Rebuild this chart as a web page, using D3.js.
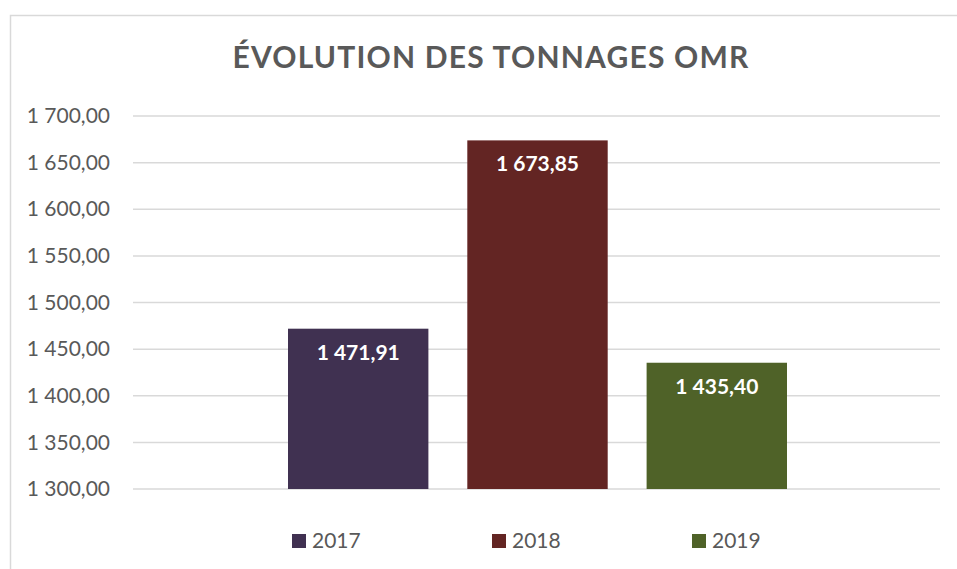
<!DOCTYPE html>
<html><head><meta charset="utf-8">
<script src="https://cdn.jsdelivr.net/npm/d3@7"></script>
<style>body{margin:0;background:#fff}svg{display:block}</style>
</head><body>
<script>
const title = "ÉVOLUTION DES TONNAGES OMR";
const series = ["2017", "2018", "2019"];
const values = [1471.91, 1673.85, 1435.40];
const colors = ["#403151", "#632523", "#4F6228"];
const yTicks = [1300, 1350, 1400, 1450, 1500, 1550, 1600, 1650, 1700];

const W = 957, H = 569;
const font = "Lato, 'Open Sans', sans-serif";
const loc = d3.formatLocale({decimal: ",", thousands: " ", grouping: [3], currency: ["", ""]});
const fmt = loc.format(",.2f");

const svg = d3.select("body").append("svg").attr("width", W).attr("height", H);
svg.append("rect").attr("x", 10.5).attr("y", 15.5).attr("width", W + 20).attr("height", H + 20)
  .attr("fill", "#fff").attr("stroke", "#d9d9d9").attr("stroke-width", 1.5);

svg.append("text").attr("x", 491).attr("y", 68).attr("text-anchor", "middle")
  .attr("font-family", font).attr("font-weight", "bold").attr("font-size", 30)
  .attr("letter-spacing", 1.2)
  .attr("fill", "#595959").text(title);

const x0 = 133, x1 = 940;
const y = d3.scaleLinear().domain([1300, 1700]).range([489, 116]);
const x = d3.scaleBand().domain(series).range([x0 + 155, x1 - 153]).paddingInner(0.217).paddingOuter(0);

const g = svg.append("g");
g.selectAll("line.grid").data(yTicks).join("line").attr("class", "grid")
  .attr("x1", x0).attr("x2", x1).attr("y1", d => y(d)).attr("y2", d => y(d))
  .attr("stroke", "#d9d9d9").attr("stroke-width", 1.5);

const axis = d3.axisLeft(y).tickValues(yTicks).tickFormat(fmt).tickSize(0).tickPadding(0);
const ag = svg.append("g").attr("transform", "translate(110,0)").call(axis);
ag.select(".domain").remove();
ag.selectAll("text").attr("font-family", font).attr("font-size", 21).attr("fill", "#595959");

g.selectAll("rect.bar").data(series).join("rect").attr("class", "bar")
  .attr("x", d => x(d)).attr("width", x.bandwidth())
  .attr("y", (d, i) => y(values[i])).attr("height", (d, i) => y(1300) - y(values[i]))
  .attr("fill", (d, i) => colors[i]);

g.selectAll("text.lab").data(series).join("text").attr("class", "lab")
  .attr("x", d => x(d) + x.bandwidth() / 2).attr("y", (d, i) => y(values[i]) + 31)
  .attr("text-anchor", "middle").attr("font-family", font).attr("font-weight", "bold")
  .attr("font-size", 21).attr("fill", "#fff").text((d, i) => fmt(values[i]));

const lg = svg.append("g");
const item = lg.selectAll("g").data(series).join("g")
  .attr("transform", (d, i) => `translate(${292 + i * 200},0)`);
item.append("rect").attr("x", 0).attr("y", 534).attr("width", 14).attr("height", 14)
  .attr("fill", (d, i) => colors[i]);
item.append("text").attr("x", 20).attr("y", 548).attr("font-family", font).attr("font-size", 21)
  .attr("fill", "#595959").text(d => d);
</script>
</body></html>
